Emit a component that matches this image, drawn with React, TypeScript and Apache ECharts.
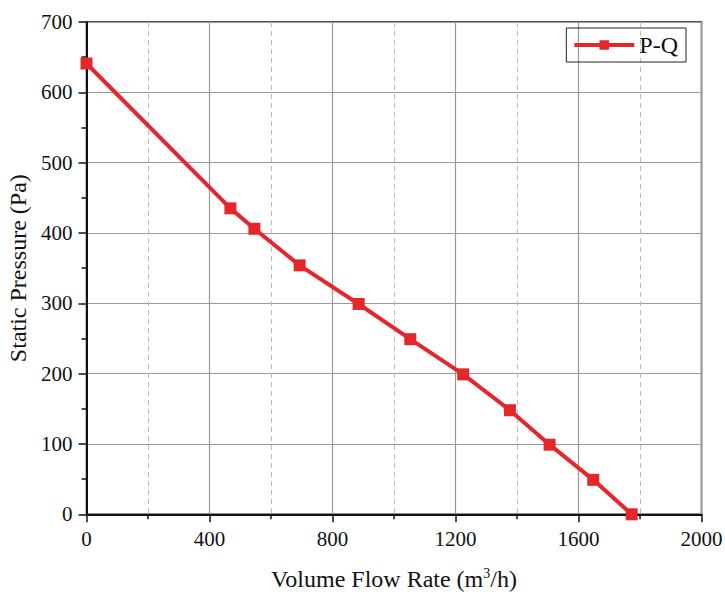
import React, { useEffect, useRef } from "react";
import * as echarts from "echarts";

const flowRate = [0, 468, 546, 693, 885, 1053, 1225, 1377, 1506, 1648, 1773];
const pressure = [641, 435, 406, 354, 299, 249, 199, 148, 99, 49, 0];
const xTicks = [0, 400, 800, 1200, 1600, 2000];
const yTicks = [0, 100, 200, 300, 400, 500, 600, 700];

const FONT = "'Liberation Serif', 'Times New Roman', serif";
const RED = "#e5262b";

export default function App() {
  const ref = useRef<HTMLDivElement>(null);
  useEffect(() => {
    if (!ref.current) return;
    const chart = echarts.init(ref.current, null, { renderer: "svg" });
    chart.setOption({
      animation: false,
      backgroundColor: "#fff",
      grid: {
        left: 86.5,
        right: 23.5,
        top: 22,
        bottom: 80.7,
        show: true,
        borderColor: "#222",
        borderWidth: 1.5,
        outerBoundsMode: "none",
        containLabel: false,
      },
      legend: {
        data: ["P-Q"],
        right: 39,
        top: 28,
        padding: [5, 8, 5, 6],
        itemGap: 5,
        borderColor: "#222",
        borderWidth: 1,
        itemWidth: 60,
        itemHeight: 12,
        lineStyle: { width: 4, color: RED },
        textStyle: { fontFamily: FONT, fontSize: 24, color: "#111" },
      },
      xAxis: {
        type: "value",
        min: xTicks[0],
        max: xTicks[xTicks.length - 1],
        interval: 400,
        name: "Volume Flow Rate (m{sup|3}/h)",
        nameLocation: "middle",
        nameGap: 52,
        nameTextStyle: {
          fontFamily: FONT,
          fontSize: 24,
          color: "#111",
          rich: {
            sup: { fontFamily: FONT, fontSize: 14, verticalAlign: "top", padding: [0, 0, 12, 0], color: "#111" },
          },
        },
        axisLine: { show: true, onZero: false, lineStyle: { color: "#111", width: 2 } },
        axisTick: { show: true, inside: false, length: 8, lineStyle: { color: "#111", width: 1.5 } },
        minorTick: { show: true, splitNumber: 2, length: 5, lineStyle: { color: "#111", width: 1.5 } },
        axisLabel: { fontFamily: FONT, fontSize: 21, color: "#111", margin: 14, formatter: (v: number) => String(v) },
        splitLine: { show: true, lineStyle: { color: "#999", width: 1.2 } },
        minorSplitLine: { show: true, lineStyle: { color: "#bbb", width: 1, type: [5, 4] } },
      },
      yAxis: {
        type: "value",
        min: yTicks[0],
        max: yTicks[yTicks.length - 1],
        interval: 100,
        name: "Static Pressure (Pa)",
        nameLocation: "middle",
        nameGap: 52,
        nameTextStyle: { fontFamily: FONT, fontSize: 24, color: "#111" },
        axisLine: { show: true, onZero: false, lineStyle: { color: "#111", width: 2 } },
        axisTick: { show: true, inside: false, length: 8, lineStyle: { color: "#111", width: 1.5 } },
        minorTick: { show: true, splitNumber: 2, length: 5, lineStyle: { color: "#111", width: 1.5 } },
        axisLabel: { fontFamily: FONT, fontSize: 21, color: "#111", margin: 14, formatter: (v: number) => String(v) },
        splitLine: { show: true, lineStyle: { color: "#999", width: 1.2 } },
      },
      series: [
        {
          name: "P-Q",
          type: "line",
          data: flowRate.map((x, i) => [x, pressure[i]]),
          symbol: "rect",
          symbolSize: 12,
          lineStyle: { color: RED, width: 4 },
          itemStyle: { color: RED },
          clip: false,
        },
      ],
    });
    return () => chart.dispose();
  }, []);
  return <div ref={ref} style={{ width: 725, height: 595, position: "absolute", left: 0, top: 0 }} />;
}
